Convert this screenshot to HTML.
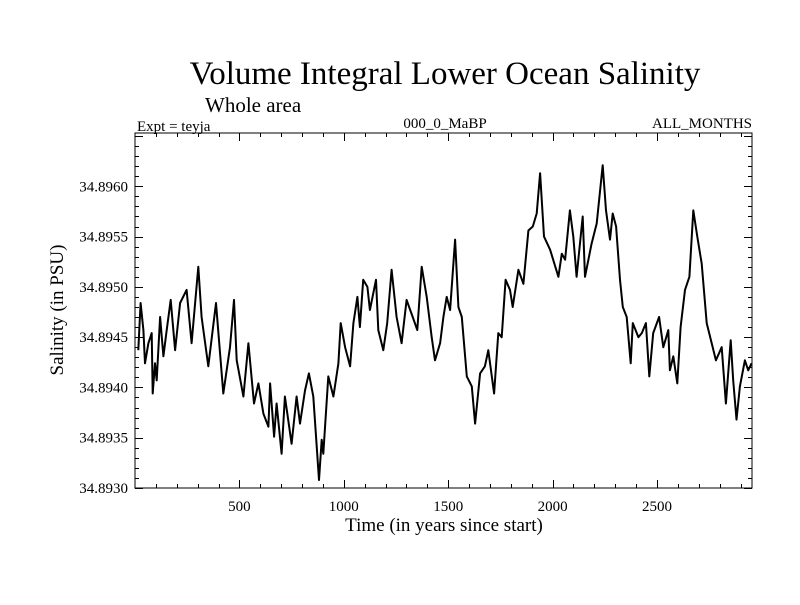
<!DOCTYPE html>
<html><head><meta charset="utf-8"><style>
body{margin:0;background:#fff;}
svg text{font-family:"Liberation Serif",serif;fill:#000;}
</style></head><body>
<svg id="chart" width="800" height="600" viewBox="0 0 800 600" xmlns="http://www.w3.org/2000/svg">
<rect width="800" height="600" fill="#fff"/>
<text x="445" y="84" font-size="33" text-anchor="middle">Volume Integral Lower Ocean Salinity</text>
<text x="205" y="112" font-size="21">Whole area</text>
<text x="137" y="131" font-size="15">Expt = teyja</text>
<text x="445" y="128" font-size="15" text-anchor="middle">000_0_MaBP</text>
<text x="752" y="128" font-size="15" text-anchor="end">ALL_MONTHS</text>
<text transform="translate(63,310) rotate(-90)" font-size="19" text-anchor="middle">Salinity (in PSU)</text>
<text x="444" y="531" font-size="19" text-anchor="middle">Time (in years since start)</text>
<g id="axes"></g>
<path id="series" fill="none" stroke="#000" stroke-width="2" stroke-linejoin="round"/>
<rect x="135" y="133" width="617" height="355" fill="none" stroke="#000" stroke-width="1"/>
</svg>
<script>
const years=[16,27,40,48,64,80,85,96,104,120,136,152,171,192,216,247,271,303,319,351,388,423,455,474,487,519,543,570,591,615,639,647,666,678,702,718,750,774,790,814,833,854,881,894,902,926,950,974,985,1006,1030,1046,1065,1077,1093,1113,1125,1154,1165,1189,1208,1229,1253,1277,1301,1330,1352,1373,1397,1421,1437,1461,1477,1493,1509,1533,1549,1565,1589,1613,1629,1653,1676,1692,1720,1740,1756,1775,1796,1809,1836,1860,1884,1905,1924,1940,1959,1988,2028,2044,2060,2083,2099,2115,2144,2155,2187,2211,2240,2256,2275,2288,2304,2323,2336,2355,2374,2384,2411,2427,2447,2463,2482,2510,2530,2554,2562,2578,2597,2613,2634,2655,2674,2693,2714,2738,2762,2782,2810,2830,2853,2865,2881,2897,2921,2937,2953];
const salinity=[34.89437,34.89484,34.89457,34.89424,34.89444,34.89454,34.89394,34.89424,34.89407,34.89470,34.89431,34.89457,34.89487,34.89437,34.89484,34.89497,34.89444,34.89520,34.89470,34.89421,34.89484,34.89394,34.89440,34.89487,34.89427,34.89391,34.89444,34.89384,34.89404,34.89374,34.89361,34.89404,34.89351,34.89384,34.89334,34.89391,34.89344,34.89391,34.89364,34.89397,34.89414,34.89391,34.89308,34.89348,34.89334,34.89411,34.89391,34.89424,34.89464,34.89440,34.89421,34.89464,34.89490,34.89460,34.89507,34.89500,34.89477,34.89507,34.89457,34.89437,34.89464,34.89517,34.89470,34.89444,34.89487,34.89470,34.89457,34.89520,34.89490,34.89450,34.89427,34.89444,34.89470,34.89490,34.89477,34.89547,34.89480,34.89470,34.89411,34.89401,34.89364,34.89414,34.89421,34.89437,34.89394,34.89454,34.89450,34.89507,34.89497,34.89480,34.89517,34.89503,34.89556,34.89560,34.89573,34.89613,34.89550,34.89537,34.89510,34.89533,34.89527,34.89576,34.89550,34.89510,34.89570,34.89510,34.89543,34.89563,34.89621,34.89576,34.89547,34.89573,34.89560,34.89507,34.89480,34.89470,34.89424,34.89464,34.89450,34.89454,34.89464,34.89411,34.89454,34.89470,34.89440,34.89457,34.89417,34.89431,34.89404,34.89460,34.89497,34.89510,34.89576,34.89550,34.89523,34.89464,34.89444,34.89427,34.89440,34.89384,34.89447,34.89407,34.89368,34.89401,34.89427,34.89417,34.89424];
const xTickLabels=[500,1000,1500,2000,2500];
const yTickLabels=["34.8930","34.8935","34.8940","34.8945","34.8950","34.8955","34.8960"];

const L=135,R=752,T=133,B=488,X0=0,X1=2955,Y0=34.8930,Y1=34.89653;
const xs=v=>L+(v-X0)/(X1-X0)*(R-L);
const ys=v=>B-(v-Y0)/(Y1-Y0)*(B-T);
const NS="http://www.w3.org/2000/svg";
const axes=document.getElementById('axes');
function line(x1,y1,x2,y2,name){const l=document.createElementNS(NS,'line');
l.setAttribute('x1',x1);l.setAttribute('y1',y1);l.setAttribute('x2',x2);l.setAttribute('y2',y2);
l.setAttribute('stroke','#000');l.setAttribute('stroke-width','1');


axes.appendChild(l);}
function text(x,y,s,anchor,name){const t=document.createElementNS(NS,'text');
t.setAttribute('x',x);t.setAttribute('y',y);t.setAttribute('font-size','15');t.setAttribute('text-anchor',anchor);t.textContent=s;


axes.appendChild(t);}
for(let v=100;v<X1;v+=100){const x=Math.round(xs(v))+0.5;const major=v%500===0;const len=major?8:4;
line(x,B,x,B-len,'x-tick');line(x,T,x,T+len,'x-tick-top');}
xTickLabels.forEach(v=>text(xs(v),511,String(v),'middle','x-tick-label'));
for(let i=0;i<=35;i++){const v=Y0+i*0.0001;const y=Math.round(ys(v))+0.5;const major=i%5===0;const len=major?8:4;
line(L,y,L+len,y,'y-tick');line(R,y,R-len,y,'y-tick-right');}
yTickLabels.forEach(s=>text(128,ys(parseFloat(s))+5,s,'end','y-tick-label'));
let d='';years.forEach((yr,i)=>{d+=(i?'L':'M')+xs(yr).toFixed(1)+','+ys(salinity[i]).toFixed(1);});
document.getElementById('series').setAttribute('d',d);
</script>
</body></html>
